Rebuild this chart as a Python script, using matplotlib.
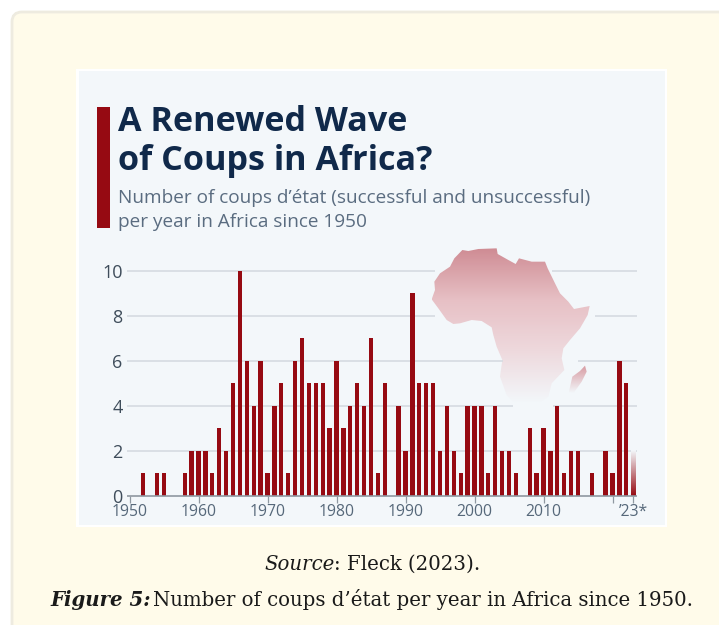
import numpy as np
import matplotlib
matplotlib.use('Agg')
import matplotlib.pyplot as plt
from matplotlib.patches import FancyBboxPatch, Rectangle, Polygon
from matplotlib.colors import LinearSegmentedColormap

# coups per year, last year is still running so it gets a fade
years = list(range(1950, 2024))
coups = [0, 0, 1, 0, 1, 1, 0, 0, 1, 2,
         2, 2, 1, 3, 2, 5, 10, 6, 4, 6,
         1, 4, 5, 1, 6, 7, 5, 5, 5, 3,
         6, 3, 4, 5, 4, 7, 1, 5, 0, 4,
         2, 9, 5, 5, 5, 2, 4, 2, 1, 4,
         4, 4, 1, 4, 2, 2, 1, 0, 3, 1,
         3, 2, 4, 1, 2, 2, 0, 1, 0, 2,
         1, 6, 5, 2]
y_ticks = [0, 2, 4, 6, 8, 10]
x_ticks = [1950, 1960, 1970, 1980, 1990, 2000, 2010, 2020, 2023]
x_labels = ['1950', '1960', '1970', '1980', '1990', '2000', '2010', '', "’23*"]

# where each gridline stops and starts again around the map (in years)
grid_gaps = {2: None, 4: (2005.6, 2011.4), 6: (2004.1, 2015.0), 8: (1994.3, 2017.4), 10: (1994.3, 2011.3)}

# outlines traced on a 3x grid, offset below
africa_trace = [(20, 178), (30, 150), (28, 125), (45, 100), (75, 80), (88, 55), (112, 30), (130, 33), (160, 27),
                (215, 25), (218, 42), (250, 60), (272, 72), (282, 55), (320, 65), (360, 65), (368, 85), (390, 130),
                (405, 160), (430, 185), (447, 207), (494, 198), (488, 225), (465, 265), (435, 300), (415, 325),
                (410, 355), (418, 390), (380, 430), (370, 470), (340, 490), (270, 490), (245, 465), (225, 410),
                (232, 360), (215, 320), (205, 285), (200, 262), (170, 243), (140, 240), (105, 250), (85, 252),
                (65, 240), (40, 205)]
madagascar_trace = [(480, 377), (485, 395), (470, 425), (445, 460), (432, 455), (442, 410), (465, 393)]

NAVY = '#10294a'
SLATE = '#5a6c80'
RED = '#960a12'
PANEL = '#f3f7fa'
CAPTION = '#1a1a1a'


def to_px(trace):
    return [(425 + x / 3, 240 + y / 3) for x, y in trace]


fig = plt.figure(figsize=(7.19, 6.25), dpi=100, facecolor='white')

# pixel layer for the card, the frame, the heading and the map
bg = fig.add_axes([0, 0, 1, 1])
bg.set_xlim(0, 719)
bg.set_ylim(625, 0)
bg.axis('off')
bg.add_patch(FancyBboxPatch((12, 12), 740, 660, boxstyle='round,pad=0,rounding_size=10',
                            fc='#fffbea', ec='#eeebe0', lw=2))
bg.add_patch(Rectangle((76, 69), 591, 458, fc='white', ec='none'))
bg.add_patch(Rectangle((79, 71), 586, 454, fc=PANEL, ec='none'))
bg.add_patch(Rectangle((97, 107), 13, 121, fc=RED, ec='none'))

bg.text(118, 131, 'A Renewed Wave', family='Open Sans', weight='bold', fontsize=24.6, color=NAVY)
bg.text(118, 170, 'of Coups in Africa?', family='Open Sans', weight='bold', fontsize=24.6, color=NAVY)
bg.text(118, 203, 'Number of coups d’état (successful and unsuccessful)', family='Open Sans',
        fontsize=13.7, color=SLATE)
bg.text(118, 227, 'per year in Africa since 1950', family='Open Sans', fontsize=13.7, color=SLATE)

# caption underneath
bg.text(264, 570, 'Source', family='DejaVu Serif', style='italic', fontsize=14.25, color=CAPTION)
bg.text(334, 570, ': Fleck (2023).', family='DejaVu Serif', fontsize=14.25, color=CAPTION)
bg.text(50, 606, 'Figure 5:', family='DejaVu Serif', style='italic', weight='bold', fontsize=14.25, color=CAPTION)
bg.text(153, 606, 'Number of coups d’état per year in Africa since 1950.', family='DejaVu Serif',
        fontsize=14.25, color=CAPTION)

# bars and axis, placed so a year is 6.9 px and one coup 22.5 px
left, right, bottom, top = 129.5, 633.2, 496, 270.7
ax = fig.add_axes([left / 719, 1 - bottom / 625, (right - left) / 719, (bottom - top) / 625])
ax.patch.set_alpha(0)
for s in ax.spines.values():
    s.set_visible(False)

x0, x1 = 1949.6, 2023.5
for v in y_ticks[1:]:
    gap = grid_gaps[v]
    spans = [(x0, x1)] if gap is None else [(x0, gap[0]), (gap[1], x1)]
    for a, b in spans:
        ax.plot([a, b], [v, v], color='#d5dbe1', lw=1.2, zorder=1, clip_on=False, solid_capstyle='butt')
ax.plot([x0, x1], [0, 0], color='#8f98a1', lw=1.2, zorder=4, clip_on=False, solid_capstyle='butt')

ax.bar(years[:-1], coups[:-1], width=0.62, color=RED, zorder=3)

# the unfinished year fades out towards the top
fade = LinearSegmentedColormap.from_list('fade', [RED, PANEL])
ax.imshow(np.linspace(0, 1, 64).reshape(-1, 1), cmap=fade, aspect='auto', origin='lower', zorder=3,
          extent=(years[-1] - 0.31, years[-1] + 0.31, 0, coups[-1]), clip_on=False)
ax.set_xlim(1950, 2023)
ax.set_ylim(0, 10)

ax.set_yticks(y_ticks)
ax.set_yticklabels(y_ticks, family='Open Sans', fontsize=13, color='#3f4d5b')
ax.tick_params(axis='y', length=0, pad=5)
ax.set_xticks(x_ticks)
ax.set_xticklabels(x_labels, family='Open Sans', fontsize=11.3, color='#56687a')
ax.tick_params(axis='x', length=5, width=0.9, color='#8f98a1', pad=0.5)

# map with vertical gradients, clipped to the outlines
africa_ramp = LinearSegmentedColormap.from_list('africa', ['#cf8c94', '#e7c0c5', '#eed9dd', PANEL])
madagascar_ramp = LinearSegmentedColormap.from_list('madagascar', ['#d79aa1', PANEL])
for outline, ramp in ((to_px(africa_trace), africa_ramp), (to_px(madagascar_trace), madagascar_ramp)):
    xs, ys = zip(*outline)
    img = bg.imshow(np.linspace(0, 1, 128).reshape(-1, 1), cmap=ramp, aspect='auto', zorder=2,
                    extent=(min(xs), max(xs), max(ys), min(ys)))
    poly = Polygon(outline, closed=True, transform=bg.transData, fc='none', ec='none')
    bg.add_patch(poly)
    img.set_clip_path(poly)
bg.set_xlim(0, 719)
bg.set_ylim(625, 0)

fig.savefig('out.png', dpi=100, facecolor='white')
